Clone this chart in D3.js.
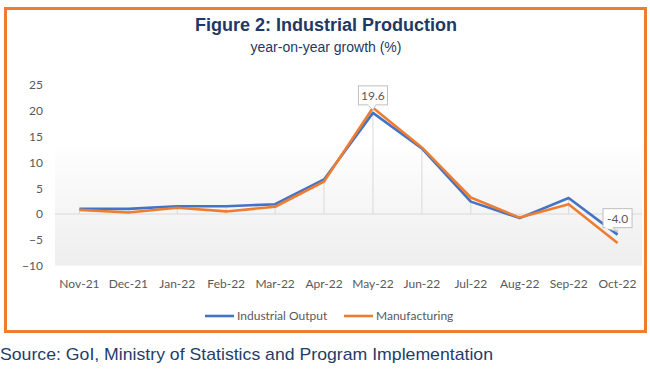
<!DOCTYPE html>
<html><head><meta charset="utf-8">
<script src="https://cdn.jsdelivr.net/npm/d3@7"></script>
<style>body{margin:0;background:#fff}svg{display:block}</style>
</head><body>
<svg id="c" width="650" height="372"></svg>
<script>
const categories = ["Nov-21","Dec-21","Jan-22","Feb-22","Mar-22","Apr-22","May-22","Jun-22","Jul-22","Aug-22","Sep-22","Oct-22"];
const industrialOutput = [1.0, 1.0, 1.5, 1.5, 1.9, 6.7, 19.6, 12.7, 2.4, -0.8, 3.1, -4.0];
const manufacturing = [0.8, 0.3, 1.2, 0.5, 1.4, 6.3, 20.6, 12.9, 3.2, -0.7, 1.9, -5.6];
const yTicks = [-10, -5, 0, 5, 10, 15, 20, 25];
const seriesNames = ["Industrial Output", "Manufacturing"];
const colors = ["#4472C4", "#ED7D31"];
const labelPoints = [{series:0, idx:6, text:"19.6"}, {series:0, idx:11, text:"-4.0"}];

const svg = d3.select("#c");
const axisFont = "Lato, 'Liberation Sans', sans-serif";
const defs = svg.append("defs");
const grad = defs.append("linearGradient").attr("id","bg").attr("x1",0).attr("y1",0).attr("x2",0).attr("y2",1);
grad.append("stop").attr("offset","0%").attr("stop-color","#ffffff");
grad.append("stop").attr("offset","30%").attr("stop-color","#ffffff");
grad.append("stop").attr("offset","100%").attr("stop-color","#eeeeee");

// frame
svg.append("rect").attr("x",5.5).attr("y",8.5).attr("width",640).attr("height",323)
  .attr("fill","#fff").attr("stroke","#ED7D31").attr("stroke-width",3);

const x = d3.scaleBand().domain(categories).range([55, 642]);
const y = d3.scaleLinear().domain([-10, 25]).range([265.6, 85]);

svg.append("rect").attr("x",55).attr("y",y(25)).attr("width",642-55).attr("height",y(-10)-y(25)).attr("fill","url(#bg)");

// title
svg.append("text").attr("x",326).attr("y",31).attr("text-anchor","middle")
  .attr("font-family","'Liberation Sans', Arial, sans-serif").attr("font-weight","bold").attr("font-size",18)
  .attr("fill","#1F3864").text("Figure 2: Industrial Production");
svg.append("text").attr("x",326).attr("y",52).attr("text-anchor","middle")
  .attr("font-family","'Liberation Sans', Arial, sans-serif").attr("font-size",14)
  .attr("fill","#1F3864").text("year-on-year growth (%)");

// y axis
const yAxis = d3.axisLeft(y).tickValues(yTicks).tickSize(0).tickPadding(0);
const yg = svg.append("g").attr("transform","translate(43,0)").call(yAxis);
yg.select(".domain").remove();
yg.selectAll("text").attr("font-family",axisFont).attr("font-size",12).attr("fill","#595959");

// x axis labels
const xAxis = d3.axisBottom(x).tickSize(0).tickPadding(0);
const xg = svg.append("g").attr("transform","translate(0,279)").call(xAxis);
xg.select(".domain").remove();
xg.selectAll("text").attr("font-family",axisFont).attr("font-size",12).attr("fill","#595959");

const cx = d => x(d) + x.bandwidth()/2;

// drop lines
svg.append("g").selectAll("line").data(categories).join("line")
  .attr("x1", cx).attr("x2", cx)
  .attr("y1", (d,i) => y(Math.max(industrialOutput[i], manufacturing[i])))
  .attr("y2", y(0))
  .attr("stroke","#d9d9d9").attr("stroke-width",1);

// zero line
svg.append("line").attr("x1",55).attr("x2",642).attr("y1",y(0)).attr("y2",y(0))
  .attr("stroke","#d9d9d9").attr("stroke-width",1);

const line = d3.line().x((d,i) => cx(categories[i])).y(d => y(d));
[industrialOutput, manufacturing].forEach((s, k) => {
  svg.append("path").datum(s).attr("d", line).attr("fill","none")
    .attr("stroke", colors[k]).attr("stroke-width", 2.6).attr("stroke-linejoin","round");
});

// data labels (callouts)
const allSeries = [industrialOutput, manufacturing];
labelPoints.forEach(p => {
  const px = cx(categories[p.idx]);
  const py = y(allSeries[p.series][p.idx]);
  const w = 29, h = 19;
  const bx = px - w/2;
  const by = p.idx === 6 ? py - 27 : py - 26;
  const g = svg.append("g");
  // pointer
  const tipX = px, tipY = py - 3;
  const baseL = p.idx === 6 ? px - 5 : bx + 2, baseR = p.idx === 6 ? px + 3 : bx + 10;
  g.append("path").attr("d", `M${baseL},${by+h} L${tipX},${tipY} L${baseR},${by+h}`)
    .attr("fill","#fff").attr("stroke","#bfbfbf").attr("stroke-width",1);
  g.append("rect").attr("x",bx).attr("y",by).attr("width",w).attr("height",h)
    .attr("fill","#fff").attr("stroke","#bfbfbf").attr("stroke-width",1);
  g.append("rect").attr("x",baseL+0.5).attr("y",by+h-1).attr("width",baseR-baseL-1).attr("height",2).attr("fill","#fff");
  g.append("text").attr("x",px).attr("y",by+14).attr("text-anchor","middle")
    .attr("font-family",axisFont).attr("font-size",12).attr("fill","#595959").text(p.text);
});

// legend
const legendX = [205, 344];
seriesNames.forEach((n, k) => {
  svg.append("line").attr("x1",legendX[k]).attr("x2",legendX[k]+29).attr("y1",316).attr("y2",316)
    .attr("stroke",colors[k]).attr("stroke-width",2.6);
  svg.append("text").attr("x",legendX[k]+32).attr("y",320).attr("font-family",axisFont)
    .attr("font-size",12).attr("fill","#595959").text(n);
});

// source
svg.append("text").attr("x",0).attr("y",360)
  .attr("font-family","'Liberation Sans', Arial, sans-serif").attr("font-size",17)
  .attr("fill","#1F3D6B").attr("textLength",493).attr("lengthAdjust","spacingAndGlyphs")
  .text("Source: GoI, Ministry of Statistics and Program Implementation");
</script>
</body></html>
